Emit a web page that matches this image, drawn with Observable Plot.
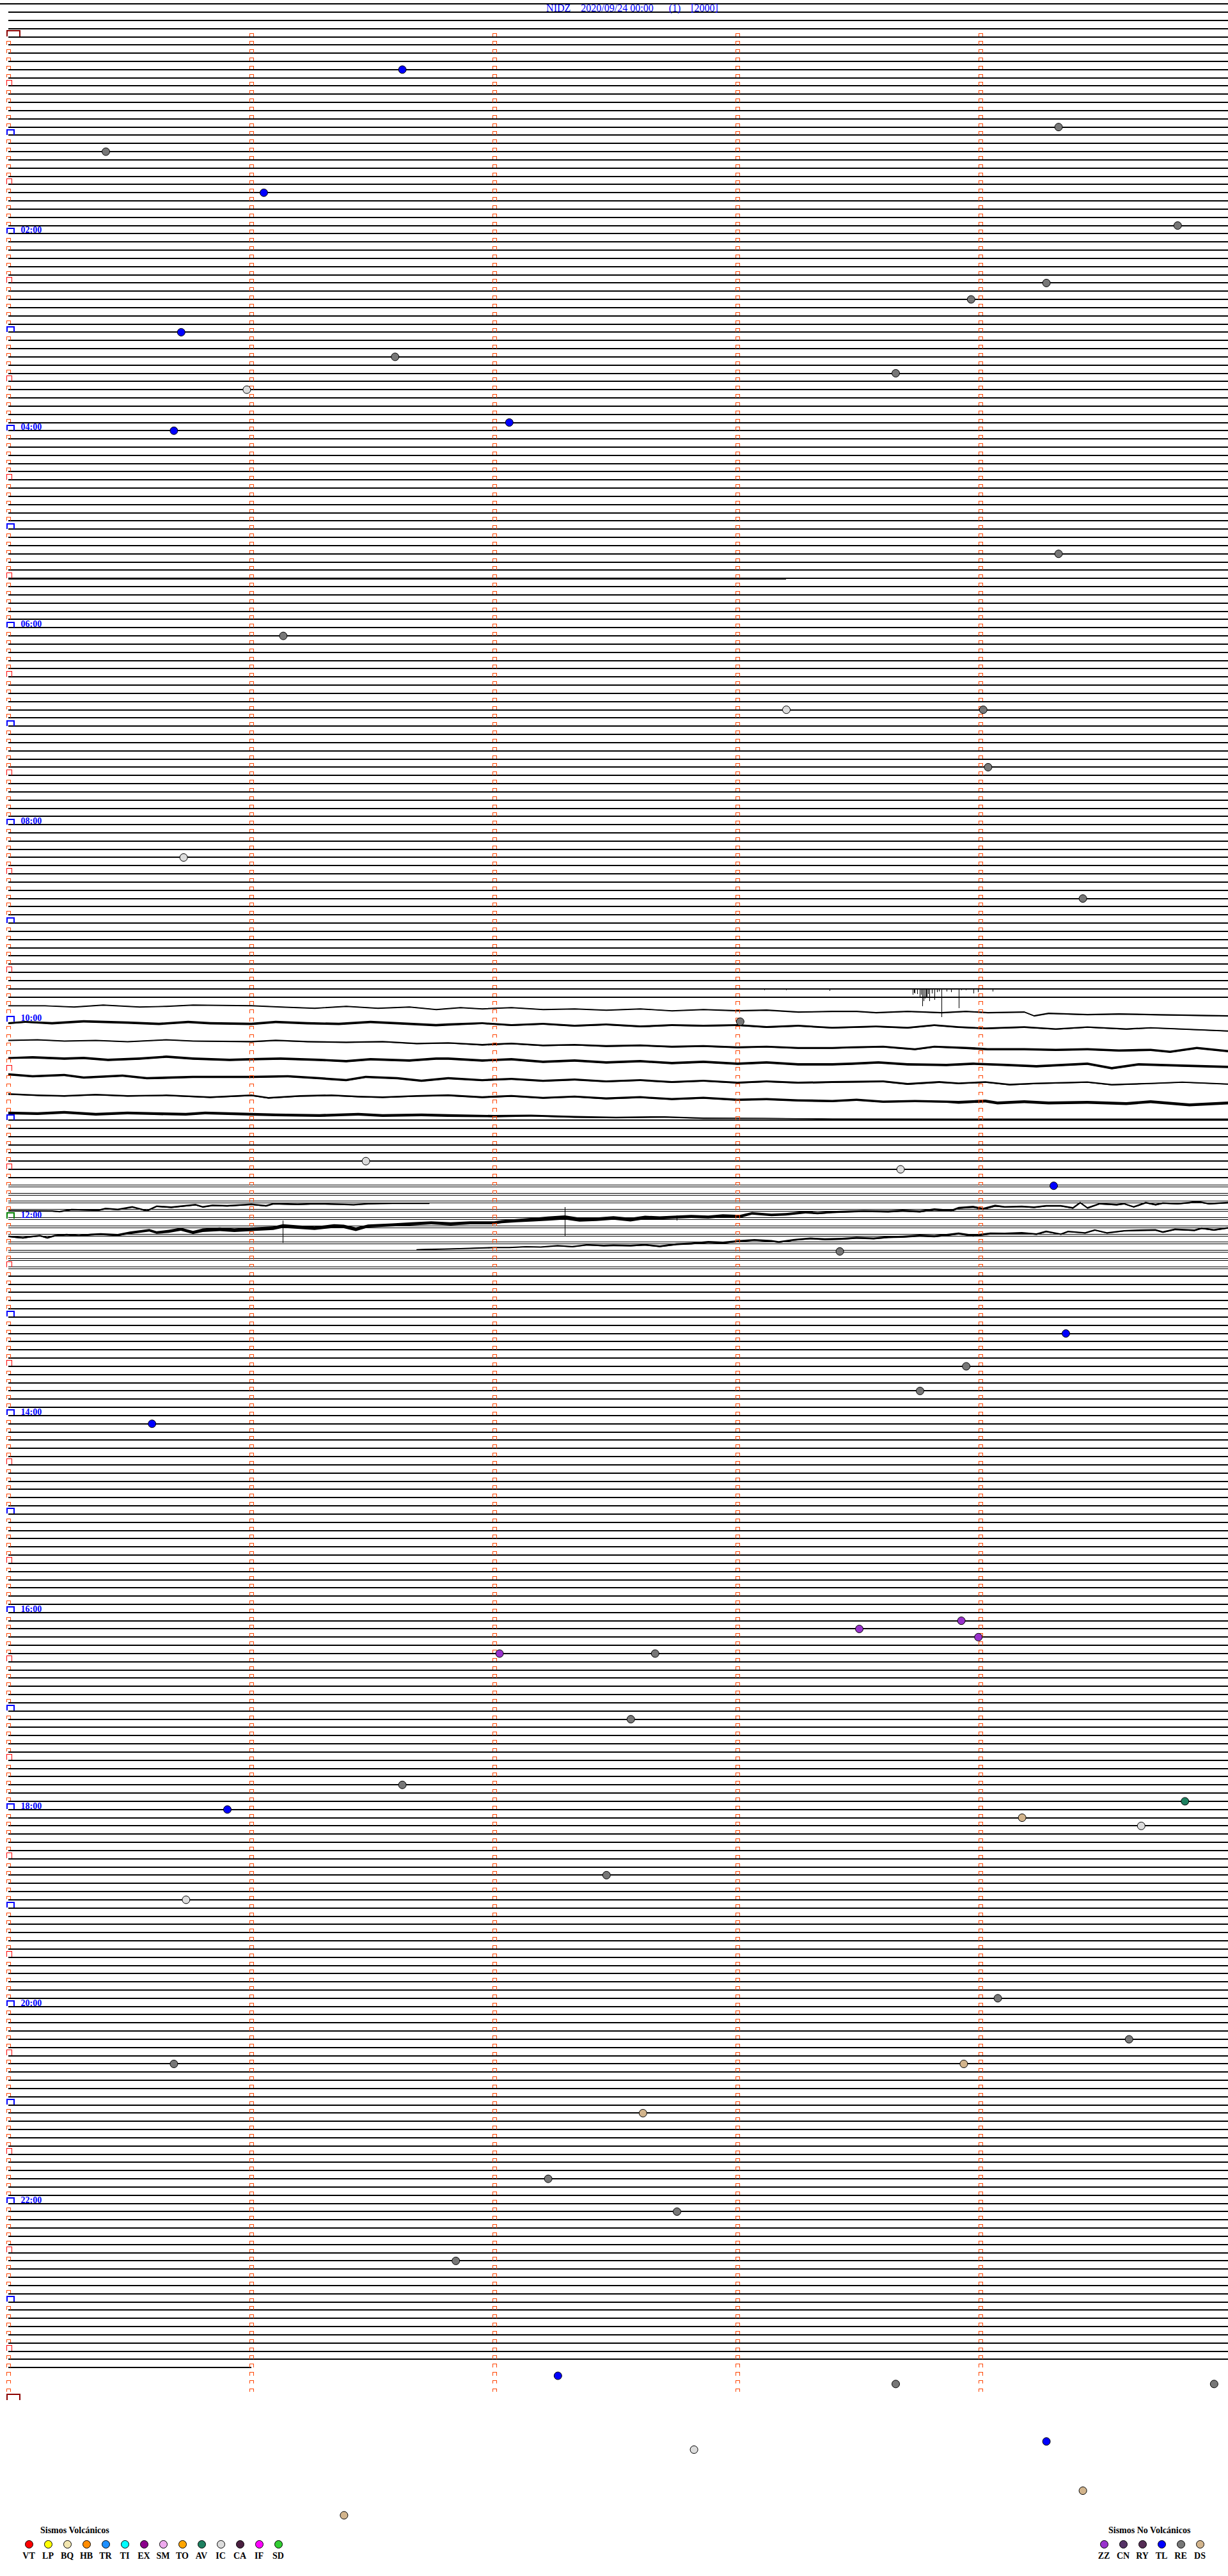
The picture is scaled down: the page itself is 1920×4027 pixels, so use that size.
<!DOCTYPE html>
<html>
<head>
<meta charset="utf-8">
<script src="https://cdn.jsdelivr.net/npm/d3@7"></script>
<script src="https://cdn.jsdelivr.net/npm/@observablehq/plot@0.6"></script>
<style>
  html, body { margin: 0; padding: 0; background: #fff; }
  body { width: 1920px; height: 4027px; overflow: hidden; font-family: "Liberation Serif", "Times New Roman", serif; }
  #chart svg { display: block; }
  #legend { position: relative; width: 1920px; height: 82px; }
  .lg-title { position: absolute; font: bold 14px "Liberation Serif", serif; color: #000; white-space: nowrap; }
  .lg-dot { position: absolute; width: 11px; height: 11px; border: 1px solid #000; border-radius: 50%; }
  .lg-lab { position: absolute; width: 30px; text-align: center; font: bold 14px "Liberation Serif", serif; color: #000; }
</style>
</head>
<body>
<div id="chart"></div>
<div id="legend"></div>
<script>
// ---------------- header ----------------
const station = "NIDZ";
const startStamp = "2020/09/24 00:00";
const channelTag = "(1)";
const scaleTag = "[2000]";

// ---------------- helicorder layout (data units) ----------------
const MIN_PER_ROW = 5;        // minutes per helicorder row
const N_ROWS = 288;           // rows of the day
const ROW_SPAN = 5.02;        // minutes plotted per trace line
const GAIN = 12.83;           // amplitude counts per row
const TRACE_OFFSET = -4;      // rows: DC offset of the quiet trace
const firstTraceStart = -0.034;
const lastTraceEnd = 1.0;
const wavyRows = [118, 131];  // rows drawn as active traces instead of flat lines
const doubledRows = [140, 150];
const doubleSplit = 1.5;      // counts
const extraSegments = [[66, 0, 3.2, -1.5]]; // [row, from minute, to minute, amplitude]

// hour labels
const labelHours = [2, 4, 6, 8, 10, 12, 14, 16, 18, 20, 22];

// ---------------- events (minute of day, type) ----------------
const eventTimes = [21.62, 59.32, 70.40, 96.05, 119.81, 154.27, 163.96, 180.71, 196.59, 208.65,
  215.98, 237.06, 240.68, 319.32, 366.13, 413.20, 414.01, 449.03, 500.72, 529.42,
  603.01, 686.47, 693.67, 704.30, 743.42, 794.35, 813.94, 828.75, 845.59, 973.50,
  968.92, 978.99, 987.02, 987.66, 1027.56, 1066.62, 1080.90, 1079.84, 1089.17, 1094.66,
  1122.46, 1135.73, 1199.07, 1224.61, 1235.68, 1238.93, 1267.61, 1307.22, 1327.75, 1356.84,
  1427.26, 1433.65, 1434.96, 1472.82, 1469.27, 1499.42, 1511.38];
const eventTypes = ["TL", "RE", "RE", "TL", "RE", "RE", "RE", "TL", "RE", "RE",
  "IC", "TL", "TL", "RE", "RE", "IC", "RE", "RE", "IC", "RE",
  "RE", "IC", "IC", "TL", "RE", "TL", "RE", "RE", "TL", "ZZ",
  "ZZ", "ZZ", "ZZ", "RE", "RE", "RE", "TL", "AV", "DS", "IC",
  "RE", "IC", "RE", "RE", "RE", "DS", "DS", "RE", "RE", "RE",
  "TL", "RE", "RE", "IC", "TL", "DS", "DS"];

// ---------------- legend ----------------
const volcanicCodes = ["VT", "LP", "BQ", "HB", "TR", "TI", "EX", "SM", "TO", "AV", "IC", "CA", "IF", "SD"];
const volcanicColors = ["#ff0000", "#ffff00", "#f2e6b0", "#ff8c00", "#1e90ff", "#00ffff", "#8b008b",
  "#eeaaee", "#ffa500", "#1e8060", "#dcdcdc", "#4a2040", "#ff00ff", "#32cd32"];
const otherCodes = ["ZZ", "CN", "RY", "TL", "RE", "DS"];
const otherColors = ["#9932cc", "#553366", "#552d55", "#0000ff", "#777777", "#d2b48c"];

// ---------------- active traces [minute, amplitude(counts, up +), noise(counts)] ----------------
const traceW1 = {row: 118, pts: [[0,-1,0.4],[.15,-1,0.4],[.27,-3,0.6],[.39,0,0.6],[.54,-3,0.6],[.65,-2,0.6],[.76,0,0.6],[1.0,-1,0.6],[1.12,-3,0.6],[1.26,-5,0.6],[1.39,-2,0.6],[1.52,-5,0.6],[1.65,-3,0.6],[1.76,-7,0.6],[1.86,-4,0.7],[1.95,-6,0.7],[2.07,-4,0.7],[2.2,-7,0.7],[2.33,-6,0.7],[2.46,-8,0.7],[2.6,-6,0.7],[2.73,-9,0.7],[2.86,-7,0.7],[3.0,-9,0.8],[3.12,-8,0.8],[3.25,-11,0.8],[3.39,-10,0.9],[3.49,-10,0.9],[3.57,-12,0.9],[3.7,-10,0.9],[3.84,-12,1],[3.94,-10,0.9],[4.03,-12,0.9],[4.18,-11,0.9],[4.22,-17,0.9],[4.28,-13,1],[4.44,-15,1],[4.57,-14,1],[4.7,-15,1],[4.86,-16,1],[5.02,-17,1]]};
const traceW2 = {row: 120, pts: [[0,-3,1.5],[.07,-1,1.5],[.18,-3,1.8],[.31,0,1.8],[.49,-2,1.8],[.62,-4,1.8],[.74,-1,1.8],[.83,-3,1.8],[1.0,-4,1.8],[1.1,-1,1.8],[1.23,-3,1.8],[1.36,-4,1.8],[1.49,-1,1.8],[1.6,-3,1.8],[1.76,-6,1.8],[1.81,-5,1.8],[1.95,-3,1.5],[2.07,-6,1.5],[2.2,-4,1.5],[2.33,-7,1.5],[2.46,-5,1.5],[2.6,-8,1.5],[2.73,-6,1.5],[2.86,-7,1.5],[3.0,-6,1.5],[3.12,-9,1.5],[3.25,-7,1.5],[3.39,-10,1.3],[3.57,-8,1.3],[3.7,-10,1.3],[3.81,-6,1.3],[3.91,-9,1.3],[4.02,-11,1.3],[4.18,-9,1.3],[4.31,-12,1.1],[4.44,-9,1.1],[4.6,-12,1.1],[4.7,-10,0.9],[4.83,-12,0.9],[5.02,-15,0.9]]};
const traceW3 = {row: 122, pts: [[0,-4,0.7],[.12,-3,0.7],[.23,-5,0.7],[.36,-4,0.7],[.49,-6,0.7],[.65,-3,0.7],[.76,-5,0.7],[1.0,-6,0.9],[1.1,-4,0.9],[1.23,-6,0.9],[1.39,-7,1.1],[1.54,-6,1.1],[1.68,-9,1.1],[1.81,-8,1.1],[1.95,-11,1.3],[2.07,-9,1.3],[2.2,-12,1.3],[2.33,-11,1.3],[2.46,-13,1.4],[2.6,-12,1.4],[2.73,-14,1.4],[2.86,-13,1.4],[3.0,-15,1.4],[3.12,-14,1.4],[3.25,-16,1.4],[3.39,-16,1.4],[3.47,-15,1.4],[3.6,-14,1.4],[3.73,-18,1.6],[3.81,-14,1.6],[3.94,-16,1.8],[4.03,-18,1.8],[4.18,-18,1.8],[4.31,-19,1.8],[4.44,-18,1.8],[4.57,-20,1.8],[4.7,-19,1.8],[4.78,-22,1.8],[4.89,-16,1.8],[5.02,-21,1.8]]};
const traceW4 = {row: 124, pts: [[0,-6,1.5],[.1,-5,1.8],[.23,-7,1.8],[.31,-6,1.8],[.41,-9,1.8],[.54,-7,1.8],[.65,-4,1.8],[.76,-7,1.8],[.91,-9,1.8],[1.0,-8,1.8],[1.12,-7,1.8],[1.28,-9,1.8],[1.39,-11,1.8],[1.49,-8,1.8],[1.65,-10,1.8],[1.76,-7,1.8],[1.81,-7,1.8],[1.95,-10,1.8],[2.07,-8,1.8],[2.2,-12,1.8],[2.33,-10,1.8],[2.46,-13,1.8],[2.6,-11,1.8],[2.73,-14,1.8],[2.86,-12,1.8],[3.0,-15,1.8],[3.12,-13,1.8],[3.25,-16,1.8],[3.39,-16,1.8],[3.47,-15,1.8],[3.58,-13,1.8],[3.7,-16,1.8],[3.86,-17,1.8],[3.97,-15,1.8],[4.11,-17,1.8],[4.23,-19,1.8],[4.44,-15,1.8],[4.54,-22,1.8],[4.65,-16,1.8],[4.83,-18,1.8],[5.02,-20,1.8]]};
const traceW5 = {row: 126, pts: [[0,-6,1.8],[.1,-9,1.8],[.23,-7,1.8],[.31,-11,1.8],[.47,-8,1.8],[.57,-12,1.8],[.76,-10,1.8],[1.0,-10,1.8],[1.15,-9,1.8],[1.28,-12,1.8],[1.39,-15,1.8],[1.47,-10,1.8],[1.6,-12,1.8],[1.7,-16,1.8],[1.81,-12,1.8],[1.95,-15,1.6],[2.07,-13,1.6],[2.2,-16,1.6],[2.33,-14,1.6],[2.46,-17,1.5],[2.6,-15,1.5],[2.73,-18,1.5],[2.86,-16,1.5],[3.0,-19,1.5],[3.12,-17,1.5],[3.25,-19,1.5],[3.39,-18,1.5],[3.6,-17,1.5],[3.7,-21,1.5],[3.83,-18,1.5],[3.91,-20,1.3],[4.02,-18,1.3],[4.12,-22,1.3],[4.23,-20,1.1],[4.44,-18,1.1],[4.54,-22,1.1],[4.7,-20,0.9],[4.83,-18,0.9],[5.02,-21,0.9]]};
const traceW6 = {row: 128, pts: [[0,-11,1.1],[.12,-13,1.1],[.23,-14,1.1],[.36,-12,1.1],[.49,-14,1.1],[.65,-13,1.1],[.83,-16,1.3],[1.0,-13,1.3],[1.07,-17,1.3],[1.2,-14,1.3],[1.33,-13,1.3],[1.44,-15,1.3],[1.54,-16,1.3],[1.68,-14,1.3],[1.81,-13,1.5],[1.95,-16,1.5],[2.07,-14,1.5],[2.2,-17,1.5],[2.33,-15,1.5],[2.46,-18,1.6],[2.6,-16,1.6],[2.73,-19,1.6],[2.86,-17,1.6],[3.0,-20,1.8],[3.12,-19,1.8],[3.25,-21,1.8],[3.39,-22,1.8],[3.49,-20,1.8],[3.6,-23,1.8],[3.73,-22,1.8],[3.86,-23,1.8],[3.91,-24,2.2],[4.02,-22,2.2],[4.07,-25,2.2],[4.18,-23,2.2],[4.28,-25,2.2],[4.44,-24,2.2],[4.6,-26,2.2],[4.7,-23,2.2],[4.86,-28,2.2],[5.02,-25,2.2]]};
const traceW7 = {row: 130, pts: [[0,-15,2.2],[.12,-16,2.2],[.23,-14,2.2],[.36,-17,2.2],[.49,-15,2.2],[.6,-16,2.2],[.73,-17,2.2],[.81,-15,2.2],[1.0,-17,2.2],[1.1,-18,2.2],[1.28,-19,2.2],[1.44,-17,2.2],[1.54,-19,2.2],[1.7,-18,2.2],[1.81,-19,2.2],[2.0,-20,1.8],[2.15,-19,1.5],[2.33,-21,1.5],[2.5,-22,1.2],[2.7,-21,1],[2.86,-23,0.8],[3.1,-23,0.5],[3.39,-24,0.4],[3.91,-24,0.2],[5.02,-24,0.2]]};
const traceA = {row: 143, pts: [[0,-1,1],[.18,-1.3,1],[.21,-2.3,1],[.26,1,1],[.37,0,1],[.4,2.4,1.2],[.45,1,1.2],[.51,5,1.2],[.57,-1,1.2],[.61,6,1.2],[.67,4.4,1.2],[.77,8.4,1.2],[.8,5,1.2],[.84,7.4,1.2],[.9,6.7,1.2],[1.0,9,1.2],[1.06,6.7,1.2],[1.09,10,1.2],[1.19,9,1.2],[1.26,10,1],[1.38,9,1],[1.42,8.4,1],[1.48,10,0.8],[1.58,10.7,0.6],[1.73,10.7,0.4]]};
const traceB = {row: 146, pts: [[0,-2.5,1.2],[.03,-3.8,1.2],[.06,-4.8,1.2],[.09,-3.1,1.2],[.13,-1.5,1.2],[.16,-4.8,1.2],[.19,-1.5,1.2],[.24,0.2,1.2],[.29,-1.5,1.2],[.34,0.2,1.4],[.38,0.9,1.4],[.45,-0.5,1.6],[.5,2.9,2],[.58,6.9,2],[.61,3.5,2],[.66,5.2,2.4],[.71,8.5,2.4],[.76,3.5,2.4],[.8,6.9,2.8],[.87,8.5,2.8],[.93,6.9,2.8],[1.0,8.5,2.8],[1.09,10.2,2.8],[1.13,13.5,2.8],[1.19,11.9,2.8],[1.26,10.2,2.8],[1.34,13.5,2.8],[1.38,12.9,2.8],[1.43,8.5,2.8],[1.48,13.5,2.4],[1.58,15.2,2.4],[1.66,16.9,2.4],[1.74,18.5,2.4],[1.82,16.9,2.4],[1.9,18.5,2.4],[2.0,18.5,2.4],[2.03,20.2,2.4],[2.09,21.9,2.4],[2.16,23.5,2.8],[2.22,25.2,3.2],[2.29,26.9,3.2],[2.35,23.5,3.2],[2.42,24.2,2.8],[2.49,26.2,2.8],[2.56,23.5,2.8],[2.62,26.9,2.8],[2.68,26.2,2.4],[2.75,27.5,2.4],[2.81,28.5,2.4],[2.88,27.5,2.4],[2.94,29.5,2.4],[3.01,28.5,2.4],[3.06,33.5,2],[3.14,30.9,2],[3.2,31.9,2],[3.28,35.2,2],[3.33,33.5,1.6],[3.39,35.2,1.6],[3.46,36.2,1.6],[3.52,36.9,1.6],[3.62,36.2,1.6],[3.68,37.5,1.6],[3.75,36.2,1.6],[3.81,39.5,1.6],[3.88,37.5,1.6],[3.91,41.9,1.6],[3.97,43.5,1.6],[4.01,40.2,1.6],[4.06,45.2,1.6],[4.1,43.5,1.2],[4.17,44.2,1.2],[4.22,42.9,1.2],[4.27,45.2,1.2],[4.33,45.2,1.2],[4.38,41.9,1.2],[4.41,50.2,1.2],[4.44,41.9,1.2],[4.49,48.5,1.2],[4.56,46.9,1.2],[4.59,48.5,1.2],[4.63,43.5,1.2],[4.68,50.2,1.2],[4.72,46.9,1.2],[4.75,49.5,1.2],[4.81,48.5,1.2],[4.86,50.2,1.2],[4.89,51.9,1.2],[4.94,48.5,1.2],[5.02,50.2,1.2]]};
const traceC = {row: 148, pts: [[1.68,2.5,0.6],[1.74,3.1,0.6],[1.82,3.8,0.6],[1.9,4.5,0.8],[2.0,5.8,0.8],[2.06,5.8,0.8],[2.13,7.1,0.8],[2.19,6.5,0.8],[2.26,8.5,1],[2.32,7.1,1],[2.38,9.8,1],[2.45,8.5,1.2],[2.49,9.1,1.2],[2.56,8.5,1.2],[2.62,9.8,1.2],[2.68,7.5,1.4],[2.75,10.8,1.4],[2.81,11.8,1.4],[2.88,14.1,1.6],[2.94,13.1,1.6],[3.01,15.8,1.6],[3.07,17.5,1.4],[3.14,15.8,1.4],[3.17,14.1,1.4],[3.23,17.5,1.4],[3.3,19.8,1.4],[3.36,18.5,1.6],[3.43,19.1,1.6],[3.49,20.8,1.6],[3.56,19.8,1.6],[3.62,21.8,1.6],[3.68,22.5,1.6],[3.75,24.1,1.6],[3.81,23.1,1.6],[3.86,25.1,1.6],[3.91,27.5,1.6],[3.97,24.1,1.6],[4.04,27.5,1.6],[4.1,27.5,1.2],[4.17,28.5,1.2],[4.23,26.5,1.2],[4.27,30.8,1.2],[4.33,26.5,1],[4.36,30.8,1],[4.43,28.5,1],[4.47,33.1,1],[4.52,28.5,1],[4.59,31.8,1],[4.65,32.5,1.2],[4.72,33.1,1.2],[4.75,29.8,1.2],[4.8,34.1,1.2],[4.88,32.5,1.2],[4.91,35.8,1.2],[4.96,33.1,1.2],[5.02,36.5,1.2]]};

// spikes [row, minute, top amplitude, bottom amplitude] (counts, up +)
const spikes = [
  [116,3.72,0,-10],[116,3.725,0,-7],[116,3.73,0,-8],[116,3.74,0,-9],[116,3.75,0,-15],[116,3.755,0,-10],[116,3.76,0,-28],
  [116,3.765,0,-20],[116,3.77,0,-16],[116,3.775,0,-13],[116,3.78,0,-15],[116,3.785,0,-9],[116,3.79,0,-20],
  [116,3.80,0,-8],[116,3.81,0,-18],[116,3.82,0,-6],[116,3.83,0,-5],[116,3.84,0,-45],[116,3.86,0,-5],[116,3.88,0,-6],
  [116,3.91,0,-31],[116,3.92,0,-3],[116,3.94,0,-3],[116,3.97,0,-8],[116,3.99,0,-6],[116,4.05,0,-5],
  [116,3.11,0,-3],[116,3.2,0,-3],[116,3.38,0,-4],
  [146,1.13,22,-13],[146,2.29,43,-2],[146,2.75,30,22]
];

// ---------------- derived tables ----------------
const eventColor = Object.fromEntries([...volcanicCodes.map((c, i) => [c, volcanicColors[i]]), ...otherCodes.map((c, i) => [c, otherColors[i]])]);
const events = eventTimes.map((t, i) => ({row: Math.floor(t / MIN_PER_ROW), minute: t % MIN_PER_ROW, type: eventTypes[i]}));

const flat = [], doubled = [];
for (let k = 0; k <= N_ROWS; k++) {
  const r = k + TRACE_OFFSET;
  if (r >= wavyRows[0] && r <= wavyRows[1]) continue;
  const t0 = k === 0 ? firstTraceStart : 0;
  const t1 = k === N_ROWS ? lastTraceEnd : ROW_SPAN;
  if (r >= doubledRows[0] && r <= doubledRows[1]) {
    doubled.push({r: r - doubleSplit / GAIN, t0, t1});
    doubled.push({r: r + doubleSplit / GAIN, t0, t1});
  } else flat.push({r, t0, t1});
}
extraSegments.forEach(([row, t0, t1, a]) => doubled.push({r: row - a / GAIN, t0, t1}));

const active = [traceW1, traceW2, traceW3, traceW4, traceW5, traceW6, traceW7, traceA, traceB, traceC]
  .map(tr => tr.pts.map(([t, a, n]) => ({t, y: tr.row - a / GAIN, lo: tr.row - (a - n) / GAIN, hi: tr.row - (a + n) / GAIN})));

// markers
const mk = {start: [], hour: [], noon: [], half: [], tick: []};
for (let i = 0; i <= N_ROWS; i++) {
  const d = {row: i, minute: 0};
  if (i === 0 || i === N_ROWS) mk.start.push(d);
  else if (i % 12 === 0) (i === 144 ? mk.noon : mk.hour).push(d);
  else if (i % 6 === 0) mk.half.push(d);
  else mk.tick.push(d);
}
for (let m = 1; m < MIN_PER_ROW; m++) for (let i = 0; i < N_ROWS; i++) mk.tick.push({row: i, minute: m});

const bracket = (w, h) => ({draw(ctx) { ctx.moveTo(0, -0.5); ctx.lineTo(0, -h); ctx.lineTo(w, -h); ctx.lineTo(w, -0.5); }});

const labels = labelHours.map(h => ({row: h * 60 / MIN_PER_ROW, text: String(h).padStart(2, "0") + ":00"}));
const NB = "\u00a0";
const title = `${station}${NB.repeat(4)}${startStamp}${NB.repeat(6)}${channelTag}${NB.repeat(4)}${scaleTag}`;

const markerDot = (data, sym, color, sw) => Plot.dot(data, {x: "minute", y: "row", symbol: sym, r: 3, dx: -3, fill: "none", stroke: color, strokeWidth: sw, shapeRendering: "crispEdges"});

const chart = Plot.plot({
  width: 1920,
  height: 3945,
  margin: 0,
  style: {background: "#fff", overflow: "visible"},
  x: {domain: [0, MIN_PER_ROW], range: [13, 1913], axis: null},
  y: {domain: [0, N_ROWS], range: [57, 3752], axis: null},
  color: {type: "identity"},
  marks: [
    Plot.ruleY(flat, {y: "r", x1: "t0", x2: "t1", stroke: "#000", strokeWidth: 2, shapeRendering: "crispEdges"}),
    Plot.ruleY(doubled, {y: "r", x1: "t0", x2: "t1", stroke: "#000", strokeWidth: 1, shapeRendering: "crispEdges"}),
    ...active.map(pts => Plot.areaY(pts, {x: "t", y1: "lo", y2: "hi", fill: "#000", curve: "linear"})),
    ...active.map(pts => Plot.line(pts, {x: "t", y: "y", stroke: "#000", strokeWidth: 1.5})),
    Plot.ruleX(spikes, {x: d => d[1], y1: d => d[0] - d[2] / GAIN, y2: d => d[0] - d[3] / GAIN, stroke: "#000", strokeWidth: 1, shapeRendering: "crispEdges"}),
    markerDot(mk.tick, bracket(5.5, 5.5), "#ff4500", 1),
    markerDot(mk.half, bracket(8, 9), "#ff0000", 1),
    markerDot(mk.hour, bracket(11, 8.5), "#0000ff", 2),
    markerDot(mk.noon, bracket(11, 9), "#008000", 2),
    markerDot(mk.start, bracket(20, 10), "#8b0000", 2),
    Plot.text(labels, {x: 0, y: "row", text: "text", dx: 19, dy: -1, textAnchor: "start", lineAnchor: "bottom",
      fill: "#0000ff", fontSize: 14, fontWeight: "bold", fontFamily: "Liberation Serif"}),
    Plot.text([title], {frameAnchor: "top", dx: 28, dy: 6, lineAnchor: "top", fill: "#0000ff", fontSize: 16, fontFamily: "Liberation Serif"}),
    Plot.dot(events, {x: "minute", y: "row", r: 6, fill: d => eventColor[d.type], stroke: "#000", strokeWidth: 1})
  ]
});
document.getElementById("chart").appendChild(chart);

// legend
const lg = document.getElementById("legend");
function legendGroup(codes, colors, firstX, titleText, titleX) {
  const t = document.createElement("div");
  t.className = "lg-title"; t.textContent = titleText;
  t.style.left = titleX + "px"; t.style.top = "3px";
  lg.appendChild(t);
  codes.forEach((c, i) => {
    const cx = firstX + 30 * i;
    const d = document.createElement("div");
    d.className = "lg-dot"; d.style.background = colors[i];
    d.style.left = (cx - 6.5) + "px"; d.style.top = (32 - 6.5) + "px";
    lg.appendChild(d);
    const l = document.createElement("div");
    l.className = "lg-lab"; l.textContent = c;
    l.style.left = (cx - 15) + "px"; l.style.top = "43px";
    lg.appendChild(l);
  });
}
legendGroup(volcanicCodes, volcanicColors, 45, "Sismos Volcánicos", 63);
legendGroup(otherCodes, otherColors, 1726, "Sismos No Volcánicos", 1733);
</script>
</body>
</html>
